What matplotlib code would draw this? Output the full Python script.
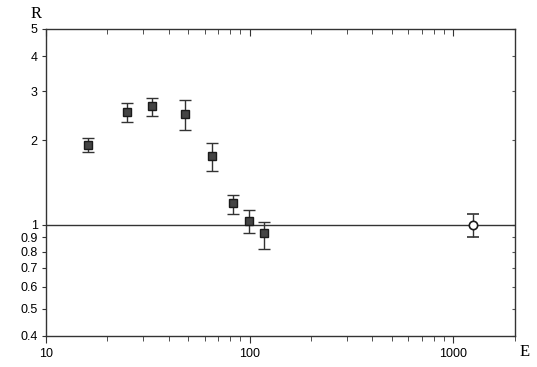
import matplotlib
matplotlib.use("Agg")
import matplotlib.pyplot as plt
from matplotlib.ticker import FixedLocator, FixedFormatter, LogLocator, NullFormatter

# values
energy = [16, 25, 33, 48, 65, 83, 99, 118]
ratio = [1.93, 2.52, 2.66, 2.48, 1.76, 1.19, 1.03, 0.93]
ratio_hi = [2.04, 2.72, 2.84, 2.78, 1.96, 1.28, 1.13, 1.02]
ratio_lo = [1.82, 2.32, 2.45, 2.17, 1.55, 1.09, 0.93, 0.82]

open_energy = [1250]
open_ratio = [1.0]
open_hi = [1.09]
open_lo = [0.90]

yticks = [0.4, 0.5, 0.6, 0.7, 0.8, 0.9, 1, 2, 3, 4, 5]
ylabels = ["0.4", "0.5", "0.6", "0.7", "0.8", "0.9", "1", "2", "3", "4", "5"]
xticks = [10, 100, 1000]
xlabels = ["10", "100", "1000"]

plt.rcParams['font.family'] = ['Liberation Sans', 'DejaVu Sans']
plt.rcParams['font.size'] = 9

fig = plt.figure(figsize=(5.37, 3.67), dpi=100)
ax = fig.add_axes([0.0857, 0.0845, 0.873, 0.8365])

ax.set_xscale('log')
ax.set_yscale('log')
ax.set_xlim(10, 2000)
ax.set_ylim(0.4, 5)

ax.axhline(1, color='#333333', lw=1.0, zorder=1)

err = [[r - l for r, l in zip(ratio, ratio_lo)], [h - r for r, h in zip(ratio, ratio_hi)]]
ax.errorbar(energy, ratio, yerr=err, fmt='s', ms=5.5, mfc='#444444', mec='#1a1a1a',
            ecolor='#333333', elinewidth=1.0, capsize=4, capthick=1.0, zorder=3)

err2 = [[r - l for r, l in zip(open_ratio, open_lo)], [h - r for r, h in zip(open_ratio, open_hi)]]
ax.errorbar(open_energy, open_ratio, yerr=err2, fmt='o', ms=6, mfc='white', mec='#1a1a1a',
            mew=1.2, ecolor='#333333', elinewidth=1.0, capsize=4, capthick=1.0, zorder=3)

ax.yaxis.set_major_locator(FixedLocator(yticks))
ax.yaxis.set_major_formatter(FixedFormatter(ylabels))
ax.yaxis.set_minor_locator(FixedLocator([]))
ax.xaxis.set_major_locator(FixedLocator(xticks))
ax.xaxis.set_major_formatter(FixedFormatter(xlabels))
ax.xaxis.set_minor_locator(LogLocator(base=10, subs=range(2, 10)))
ax.xaxis.set_minor_formatter(NullFormatter())

for s in ax.spines.values():
    s.set_color('#333333')
    s.set_linewidth(1.0)

ax.tick_params(axis='x', which='both', direction='out', bottom=True, top=False,
               color='#333333', pad=4, labelsize=9)
ax.tick_params(axis='x', which='major', length=5)
ax.tick_params(axis='x', which='minor', length=3.5)
ax.tick_params(axis='y', which='major', direction='out', length=3, left=True,
               right=False, color='#333333', pad=3, labelsize=9)

# inward ticks on the top and right spines
top = ax.secondary_xaxis('top')
top.xaxis.set_major_locator(FixedLocator(xticks))
top.xaxis.set_minor_locator(LogLocator(base=10, subs=range(2, 10)))
top.xaxis.set_major_formatter(NullFormatter())
top.xaxis.set_minor_formatter(NullFormatter())
top.tick_params(which='major', direction='in', length=5, color='#333333')
top.tick_params(which='minor', direction='in', length=3.5, color='#333333')
top.spines['top'].set_visible(False)

right = ax.secondary_yaxis('right')
right.yaxis.set_major_locator(FixedLocator(yticks))
right.yaxis.set_major_formatter(NullFormatter())
right.yaxis.set_minor_locator(FixedLocator([]))
right.tick_params(direction='in', length=2, color='#555555')
right.spines['right'].set_visible(False)

fig.text(36 / 537, 1 - 14 / 367, "R", family='Liberation Serif', fontsize=12,
         ha='center', va='center')
fig.text(525 / 537, 1 - 352 / 367, "E", family='Liberation Serif', fontsize=12,
         ha='center', va='center')

fig.savefig("out.png", dpi=100)
